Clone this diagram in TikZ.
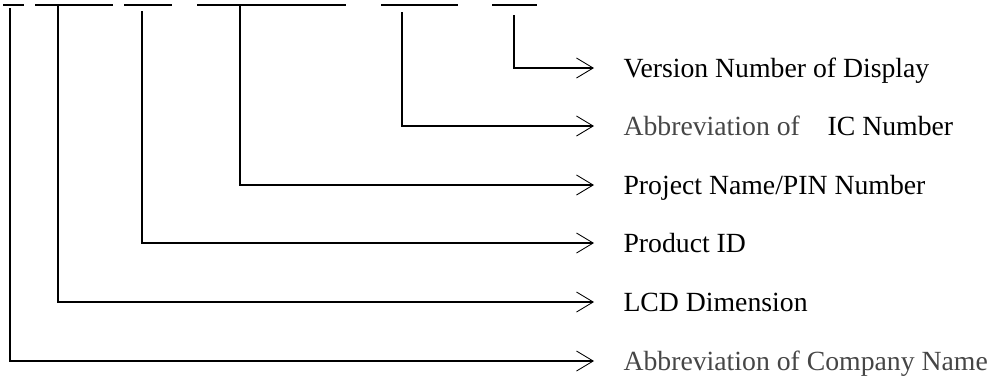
\documentclass[tikz,border=0pt]{standalone}
\usepackage{fontspec}
\setmainfont{Liberation Serif}
\usetikzlibrary{arrows.meta}
\definecolor{txtgrey}{RGB}{70,70,70}
\begin{document}
\begin{tikzpicture}[x=0.75pt,y=-0.75pt,line width=0.8pt,
  lbl/.style={anchor=base west,inner sep=0pt,font=\fontsize{20.8}{24}\selectfont},
  conn/.style={-{Straight Barb[length=12.5pt,width=15pt,line width=0.65pt]}},
  uline/.style={line width=1.3pt}]
\useasboundingbox (0,0) rectangle (1008,380);
% underlines of the (cut-off) part number
\draw[uline] (3,5) -- (24,5);
\draw[uline] (35,5) -- (113,5);
\draw[uline] (124,5) -- (172,5);
\draw[uline] (197,5) -- (346,5);
\draw[uline] (381,5) -- (458,5);
\draw[uline] (492,5) -- (537,5);
% tops of connectors
\coordinate (t1) at (10,8);
\coordinate (t2) at (58,5);
\coordinate (t3) at (142,11);
\coordinate (t4) at (240,5);
\coordinate (t5) at (402,12);
\coordinate (t6) at (514,15);
% arrow ends
\coordinate (e6) at (594,68);
\coordinate (e5) at (594,126);
\coordinate (e4) at (594,185);
\coordinate (e3) at (594,243);
\coordinate (e2) at (594,302);
\coordinate (e1) at (594,361);
% labels
\node[lbl] (l6) at (623,77) {Version Number of Display};
\node[lbl] (l5) at (623,135) {\textcolor{txtgrey}{Abbreviation of}\quad IC Number};
\node[lbl] (l4) at (623,194) {Project Name/PIN Number};
\node[lbl] (l3) at (623,252) {Product ID};
\node[lbl] (l2) at (623,311) {LCD Dimension};
\node[lbl,text=txtgrey] (l1) at (623,370) {Abbreviation of Company Name};
% connectors
\draw[conn] (t6) |- (e6);
\draw[conn] (t5) |- (e5);
\draw[conn] (t4) |- (e4);
\draw[conn] (t3) |- (e3);
\draw[conn] (t2) |- (e2);
\draw[conn] (t1) |- (e1);
\end{tikzpicture}
\end{document}
